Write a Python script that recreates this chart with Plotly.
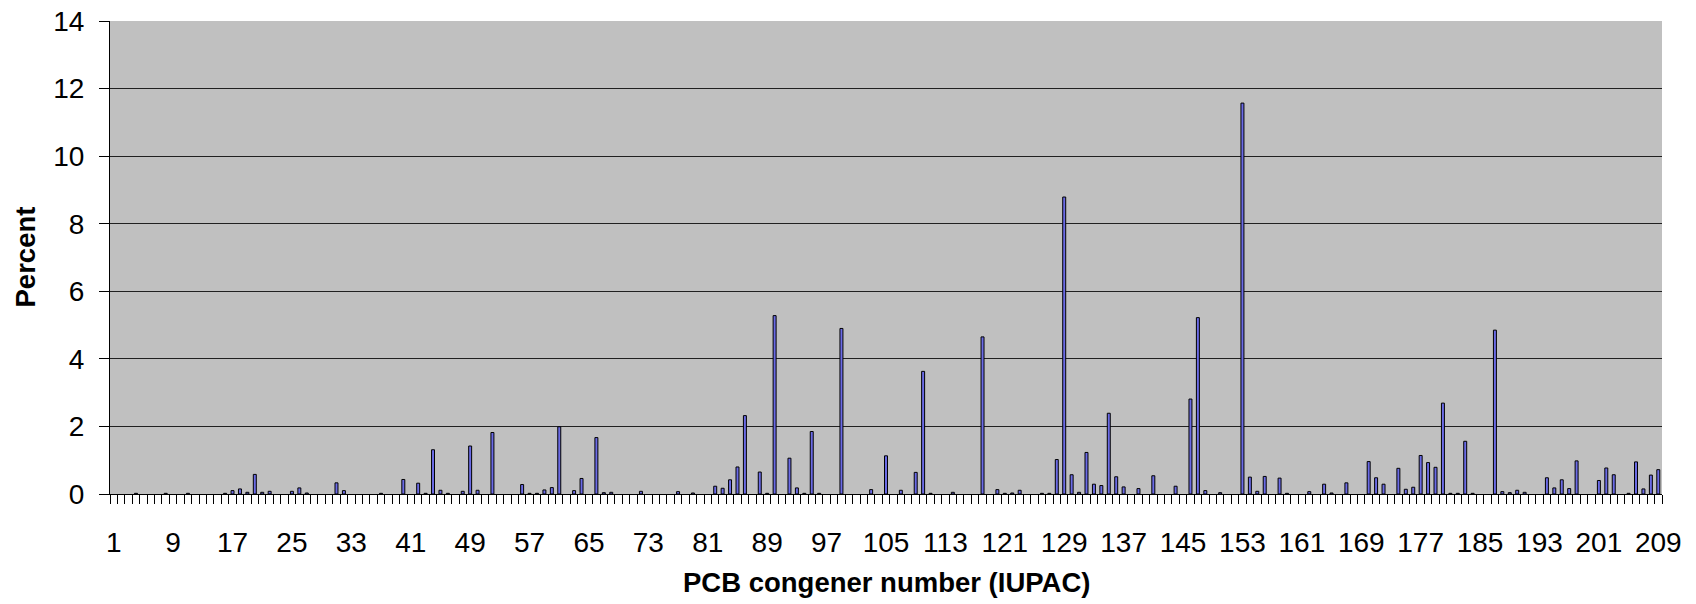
import plotly.graph_objects as go

# PCB congener numbers (IUPAC) with non-zero share, and their percent values
congener = [4, 8, 11, 16, 17, 18, 19, 20, 21, 22, 25, 26, 27, 31, 32, 37, 40, 42, 43, 44,
            45, 46, 48, 49, 50, 52, 56, 57, 58, 59, 60, 61, 63, 64, 66, 67, 68, 72, 77, 79,
            82, 83, 84, 85, 86, 88, 89, 90, 92, 93, 94, 95, 96, 99, 103, 105, 107, 109, 110, 111,
            114, 118, 120, 121, 122, 123, 126, 127, 128, 129, 130, 131, 132, 133, 134, 135, 136, 137, 139, 141,
            144, 146, 147, 148, 150, 153, 154, 155, 156, 158, 159, 162, 164, 165, 167, 170, 171, 172, 174, 175,
            176, 177, 178, 179, 180, 181, 182, 183, 184, 187, 188, 189, 190, 191, 194, 195, 196, 197, 198, 201,
            202, 203, 205, 206, 207, 208, 209]
percent = [0.02, 0.02, 0.02, 0.02, 0.10, 0.15, 0.05, 0.58, 0.05, 0.08, 0.08, 0.18, 0.03, 0.33, 0.10, 0.02, 0.43, 0.32, 0.02, 1.31,
           0.11, 0.02, 0.08, 1.42, 0.11, 1.82, 0.28, 0.02, 0.02, 0.12, 0.19, 1.99, 0.10, 0.46, 1.67, 0.04, 0.05, 0.08, 0.07, 0.03,
           0.23, 0.17, 0.42, 0.80, 2.32, 0.65, 0.02, 5.28, 1.06, 0.18, 0.02, 1.85, 0.02, 4.90, 0.13, 1.13, 0.11, 0.64, 3.63, 0.02,
           0.05, 4.65, 0.13, 0.02, 0.03, 0.11, 0.02, 0.02, 1.02, 8.79, 0.57, 0.05, 1.23, 0.29, 0.25, 2.39, 0.51, 0.21, 0.16, 0.54,
           0.23, 2.81, 5.22, 0.10, 0.04, 11.57, 0.50, 0.08, 0.52, 0.47, 0.02, 0.07, 0.29, 0.03, 0.33, 0.96, 0.48, 0.29, 0.76, 0.14,
           0.20, 1.14, 0.93, 0.79, 2.69, 0.02, 0.02, 1.56, 0.02, 4.85, 0.07, 0.04, 0.11, 0.05, 0.48, 0.18, 0.42, 0.16, 0.98, 0.40,
           0.77, 0.57, 0.02, 0.95, 0.15, 0.56, 0.72]

tick_labels = list(range(1, 210, 8))
y_ticks = list(range(0, 15, 2))
x_title = "PCB congener number (IUPAC)"
y_title = "Percent"

fig = go.Figure(go.Bar(
    x=congener, y=percent,
    marker=dict(color="#6b6be6", line=dict(color="black", width=1)),
))

FONT = "Liberation Sans, Arial, sans-serif"
fig.update_layout(
    width=1696, height=604,
    margin=dict(l=110, r=34, t=21, b=110),
    plot_bgcolor="#c0c0c0", paper_bgcolor="white",
    bargap=0.6, showlegend=False,
    font=dict(family=FONT, color="black", size=28),
)
fig.update_xaxes(
    range=[0.5, 209.5], tickmode="array", tickvals=tick_labels,
    ticktext=[str(t) for t in tick_labels],
    ticks="outside", ticklen=9, tickcolor="rgba(0,0,0,0)", ticklabelstandoff=14,
    showgrid=False, automargin=False,
    showline=True, linecolor="black", linewidth=1,
    tickfont=dict(size=28),
    minor=dict(tickmode="linear", tick0=0.5, dtick=1, ticks="outside", ticklen=9,
               tickcolor="black", showgrid=False),
)
fig.update_yaxes(
    range=[0, 14], tickmode="array", tickvals=y_ticks, ticks="outside", ticklen=10,
    tickcolor="black", showgrid=True, gridcolor="#202020", gridwidth=1,
    showline=True, linecolor="black", linewidth=1, zeroline=False,
    automargin=False, ticklabelstandoff=9,
    tickfont=dict(size=28),
)
fig.add_annotation(text="<b>" + x_title + "</b>", xref="paper", yref="paper",
                   x=0.5, y=0, xanchor="center", yanchor="middle", yshift=-88,
                   showarrow=False, font=dict(size=27.5))
fig.add_annotation(text="<b>" + y_title + "</b>", xref="paper", yref="paper",
                   x=0, y=0.5, xanchor="center", yanchor="middle", xshift=-85,
                   textangle=-90, showarrow=False, font=dict(size=27.5))

fig.write_html(
    "out.html",
    config={"displayModeBar": False, "staticPlot": True},
    post_script="document.body.style.margin='0px';document.body.style.overflow='hidden';",
)
